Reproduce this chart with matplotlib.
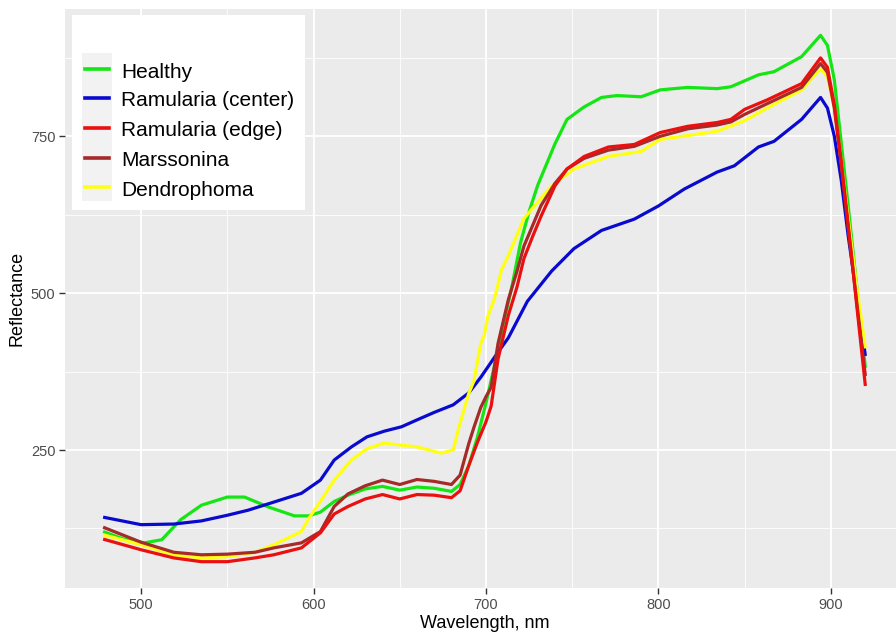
import matplotlib
matplotlib.use("Agg")
import matplotlib.pyplot as plt
from matplotlib.lines import Line2D
from matplotlib.patches import Rectangle

plt.rcParams['font.family'] = ['Liberation Sans', 'DejaVu Sans']

# ---------------- data ----------------
healthy_x = [478, 490, 502, 512, 523, 535, 550, 560, 574, 589, 597, 604, 612, 620, 630, 640,
             650, 660, 670, 680, 685, 690, 695, 700, 705, 710, 715, 720, 725, 730, 735, 740,
             747, 757, 767, 776, 790, 801, 817, 834, 842, 858, 867, 883, 894, 898, 902, 906,
             910, 915, 920]
healthy_y = [120, 108, 102, 107, 139, 162, 175, 175, 159, 145, 145, 151, 168, 178, 188, 192,
             186, 191, 189, 184, 195, 225, 270, 325, 385, 450, 510, 580, 630, 672, 705, 738,
             777, 797, 812, 815, 813, 824, 828, 826, 829, 848, 853, 877, 911, 895, 840, 740,
             640, 510, 381]

center_x = [478, 500, 519, 535, 550, 562, 577, 593, 604, 612, 622, 631, 641, 651, 660, 670,
            681, 690, 697, 705, 713, 724, 738, 751, 767, 786, 800, 815, 834, 844, 858, 867,
            883, 894, 898, 902, 906, 910, 915, 920]
center_y = [143, 131, 132, 137, 146, 154, 167, 181, 202, 234, 255, 271, 280, 287, 298, 310,
            322, 341, 366, 398, 429, 487, 535, 571, 600, 618, 639, 666, 693, 703, 733, 742,
            777, 812, 795, 750, 680, 592, 495, 400]

edge_x = [478, 500, 519, 535, 550, 566, 577, 593, 604, 612, 620, 630, 640, 650, 660, 670,
          680, 685, 690, 695, 700, 703, 707, 713, 718, 722, 727, 732, 740, 747, 757, 771,
          786, 801, 817, 834, 842, 850, 863, 873, 883, 894, 898, 902, 906, 910, 915, 920]
edge_y = [108, 91, 78, 72, 72, 78, 83, 94, 118, 148, 160, 172, 179, 172, 179, 178,
          174, 185, 225, 262, 295, 320, 395, 465, 510, 555, 590, 623, 671, 698, 718, 733,
          737, 756, 766, 772, 777, 793, 808, 821, 834, 875, 860, 800, 710, 610, 480, 352]

mars_x = [478, 500, 519, 535, 550, 566, 577, 593, 604, 612, 620, 630, 640, 650, 660, 670,
          680, 685, 690, 693, 697, 700, 703, 707, 713, 718, 722, 732, 740, 747, 757, 771,
          786, 801, 817, 834, 842, 850, 863, 873, 883, 894, 898, 902, 906, 910, 915, 920]
mars_y = [127, 103, 87, 83, 84, 87, 94, 102, 120, 160, 180, 193, 202, 195, 203, 200,
          195, 210, 260, 286, 318, 335, 350, 420, 490, 535, 575, 640, 675, 698, 715, 728,
          734, 750, 762, 768, 773, 785, 802, 815, 828, 866, 852, 795, 705, 605, 485, 368]

dendro_x = [478, 500, 519, 535, 550, 566, 577, 593, 597, 604, 612, 622, 631, 641, 650, 660,
            674, 681, 684, 690, 693, 697, 699, 701, 705, 709, 713, 722, 738, 751, 771, 790,
            801, 834, 850, 863, 883, 894, 898, 902, 906, 910, 915, 920]
dendro_y = [115, 99, 83, 78, 80, 87, 99, 120, 140, 168, 202, 234, 252, 261, 258, 255,
            245, 250, 283, 340, 360, 420, 433, 462, 492, 537, 560, 619, 671, 698, 718, 726,
            745, 758, 775, 795, 824, 858, 845, 795, 710, 620, 510, 412]

series_names = ["Healthy", "Ramularia (center)", "Ramularia (edge)", "Marssonina", "Dendrophoma"]
series_x = [healthy_x, center_x, edge_x, mars_x, dendro_x]
series_y = [healthy_y, center_y, edge_y, mars_y, dendro_y]
series_colors = ["#14E614", "#0A0ACF", "#EA1010", "#A52A2A", "#FFFF14"]
draw_order = [0, 1, 4, 3, 2]

x_ticks = [500, 600, 700, 800, 900]
y_ticks = [250, 500, 750]

# ---------------- figure ----------------
W, H = 896, 639
fig = plt.figure(figsize=(W / 100, H / 100), dpi=100)
ax = fig.add_axes([65 / W, (H - 588) / H, 838.5 / W, 579 / H])
ax.set_facecolor("#EBEBEB")

for i in draw_order:
    ax.plot(series_x[i], series_y[i], color=series_colors[i], lw=2.3,
            solid_joinstyle="round", solid_capstyle="butt", zorder=3)

ax.margins(x=0.05, y=0.05)
ax.set_xticks(x_ticks)
ax.set_yticks(y_ticks)
ax.set_xticks([550, 650, 750, 850], minor=True)
ax.set_yticks([125, 375, 625, 875], minor=True)
ax.grid(which="major", color="white", lw=1.3, zorder=0)
ax.grid(which="minor", color="white", lw=0.6, zorder=0)
ax.set_axisbelow(True)
for s in ax.spines.values():
    s.set_visible(False)
ax.tick_params(which="major", length=4, width=1, color="#333333",
               labelcolor="#4D4D4D", labelsize=10.5, pad=3)
ax.tick_params(which="minor", length=0)
ax.set_xlabel("Wavelength, nm", fontsize=13, color="black", labelpad=2)
ax.set_ylabel("Reflectance", fontsize=13, color="black", labelpad=4)

# ---------------- legend (ggplot-style) ----------------
def fx(px):
    return px / W

def fy(py):
    return 1 - py / H

fig.patches.append(Rectangle((fx(72), fy(210)), fx(305) - fx(72), fy(15) - fy(210),
                             transform=fig.transFigure, facecolor="white",
                             edgecolor="none", zorder=5))
fig.patches.append(Rectangle((fx(82), fy(201)), fx(112) - fx(82), fy(53) - fy(201),
                             transform=fig.transFigure, facecolor="#F2F2F2",
                             edgecolor="none", zorder=6))
key_y = [69, 98, 128, 158, 187]
for name, col, ky in zip(series_names, series_colors, key_y):
    fig.add_artist(Line2D([fx(85), fx(109)], [fy(ky), fy(ky)], color=col, lw=2.6,
                          transform=fig.transFigure, zorder=7))
    fig.text(fx(121), fy(ky + 1), name, fontsize=15, color="black",
             va="center_baseline", ha="left", zorder=7)

fig.savefig("out.png", dpi=100)
